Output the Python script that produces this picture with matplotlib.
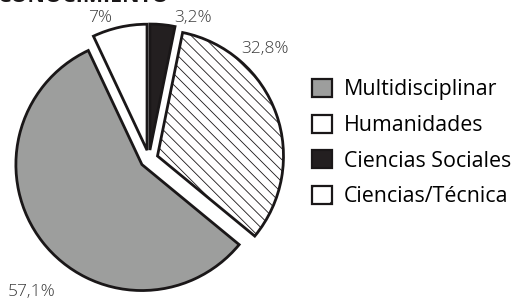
import matplotlib
matplotlib.use("Agg")
import matplotlib.pyplot as plt
from matplotlib.patches import Patch

# data
categories = ["Ciencias Sociales", "Ciencias/Técnica", "Multidisciplinar", "Humanidades"]
shares = [3.2, 32.8, 57.1, 7.0]
pct_labels = ["3,2%", "32,8%", "57,1%", "7%"]
legend_order = ["Multidisciplinar", "Humanidades", "Ciencias Sociales", "Ciencias/Técnica"]

face = {"Ciencias Sociales": "#231f20", "Ciencias/Técnica": "white",
        "Multidisciplinar": "#9d9e9d", "Humanidades": "white"}
edge = "#1a1718"

plt.rcParams["font.family"] = ["Open Sans", "DejaVu Sans"]
plt.rcParams["hatch.linewidth"] = 0.6

fig = plt.figure(figsize=(5.13, 3.0), dpi=100)
ax = fig.add_axes([0, 0, 1, 1])

# explode is in data units here (1 unit = 1 px)
wedges, _ = ax.pie(shares, startangle=90, counterclock=False,
                   center=(149, 141), radius=126,
                   explode=[9] * len(shares),
                   colors=[face[c] for c in categories],
                   wedgeprops=dict(edgecolor=edge, linewidth=2.0))
for w, c in zip(wedges, categories):
    if c == "Ciencias/Técnica":
        w.set_hatch("\\\\\\")

# pie() resets the limits, so set the pixel frame afterwards
ax.set_xlim(0, 513)
ax.set_ylim(0, 300)
ax.set_aspect("equal")
ax.axis("off")

# percentage labels
label_pos = {"3,2%": (193, 282), "32,8%": (265, 251), "57,1%": (32, 8), "7%": (100, 282)}
for t in pct_labels:
    x, y = label_pos[t]
    ax.text(x, y, t, ha="center", va="center", fontsize=12.5, color="#3c3c3c",
            fontweight="light")

# cut-off title at the top edge
ax.text(-2, 297.5, "CONOCIMIENTO", ha="left", va="baseline", fontsize=15.5,
        fontweight="bold", color=edge)

handles = [Patch(facecolor=face[c], edgecolor=edge, linewidth=1.6,
                 hatch="/" if c == "Ciencias/Técnica" else None)
           for c in legend_order]
leg = ax.legend(handles, legend_order, loc="upper left",
                bbox_to_anchor=(312 / 513, 1 - 79 / 300), frameon=False,
                fontsize=15.4, handlelength=0.93, handleheight=0.93,
                handletextpad=0.56, labelspacing=0.66, borderaxespad=0,
                borderpad=0)

fig.savefig("out.png", dpi=100)
